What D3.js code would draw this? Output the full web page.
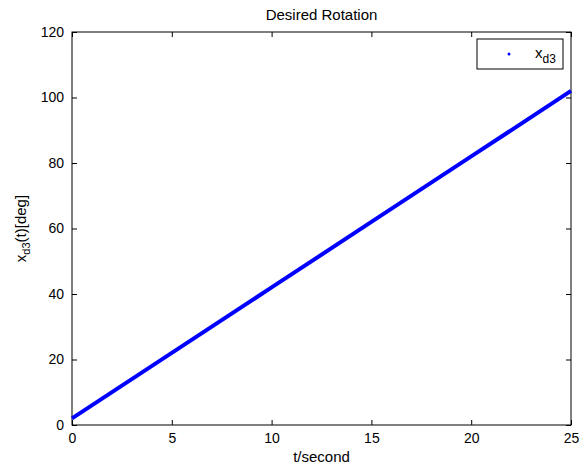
<!DOCTYPE html>
<html><head><meta charset="utf-8">
<script src="https://cdn.jsdelivr.net/npm/d3@7"></script>
<style>body{margin:0;background:#fff}svg{display:block}text{font-family:"Liberation Sans",Arial,Helvetica,sans-serif}</style>
</head><body>
<script>
const tValues = [0, 5, 10, 15, 20, 25];
const xd3Values = [2, 22, 42, 62, 82, 102];
const xTicks = [0, 5, 10, 15, 20, 25];
const yTicks = [0, 20, 40, 60, 80, 100, 120];
const title = "Desired Rotation";
const xLabel = "t/second";

const W = 588, H = 468;
const m = {left: 72, right: 17, top: 32, bottom: 43};
const svg = d3.select("body").append("svg").attr("width", W).attr("height", H);
const x = d3.scaleLinear().domain([0, 25]).range([m.left, W - m.right]);
const y = d3.scaleLinear().domain([0, 120]).range([H - m.bottom, m.top]);

const g = svg.append("g");
g.append("rect").attr("x", x(0)).attr("y", y(120)).attr("width", x(25) - x(0)).attr("height", y(0) - y(120))
  .attr("fill", "none").attr("stroke", "#000").attr("stroke-width", 1);

const tl = 5;
const ax = (sel) => sel.selectAll("path").remove();
g.append("g").attr("transform", `translate(0,${y(0)})`)
  .call(d3.axisBottom(x).tickValues(xTicks).tickSize(-tl).tickPadding(8).tickFormat(d3.format("d")))
  .call(ax).call(s => s.selectAll("text").attr("font-size", 14).attr("fill", "#000"));
g.append("g").attr("transform", `translate(0,${y(120)})`)
  .call(d3.axisTop(x).tickValues(xTicks).tickSize(-tl).tickFormat(""))
  .call(ax);
g.append("g").attr("transform", `translate(${x(0)},0)`)
  .call(d3.axisLeft(y).tickValues(yTicks).tickSize(-tl).tickPadding(8).tickFormat(d3.format("d")))
  .call(ax).call(s => s.selectAll("text").attr("font-size", 14).attr("fill", "#000"));
g.append("g").attr("transform", `translate(${x(25)},0)`)
  .call(d3.axisRight(y).tickValues(yTicks).tickSize(-tl).tickFormat(""))
  .call(ax);
g.selectAll(".tick line").attr("stroke", "#000");

svg.append("path").datum(tValues.map((t, i) => [t, xd3Values[i]]))
  .attr("d", d3.line().x(d => x(d[0])).y(d => y(d[1])))
  .attr("fill", "none").attr("stroke", "#0000ff").attr("stroke-width", 4);

svg.append("text").attr("x", (x(0) + x(25)) / 2).attr("y", 20).attr("text-anchor", "middle")
  .attr("font-size", 15).text(title);
svg.append("text").attr("x", (x(0) + x(25)) / 2).attr("y", 462).attr("text-anchor", "middle")
  .attr("font-size", 15).text(xLabel);
const yl = svg.append("text").attr("transform", `translate(26,${(y(0) + y(120)) / 2}) rotate(-90)`)
  .attr("text-anchor", "middle").attr("font-size", 15);
yl.append("tspan").text("x");
yl.append("tspan").attr("font-size", 11).attr("dy", 4).text("d3");
yl.append("tspan").attr("dy", -4).text("(t)[deg]");

const lg = svg.append("g");
lg.append("rect").attr("x", 477).attr("y", 39).attr("width", 86).attr("height", 30)
  .attr("fill", "#fff").attr("stroke", "#000").attr("stroke-width", 1);
lg.append("circle").attr("cx", 509).attr("cy", 54).attr("r", 1.5).attr("fill", "#0000ff");
const lt = lg.append("text").attr("x", 535).attr("y", 58).attr("font-size", 15);
lt.append("tspan").text("x");
lt.append("tspan").attr("font-size", 12).attr("dy", 5).text("d3");
</script>
</body></html>
